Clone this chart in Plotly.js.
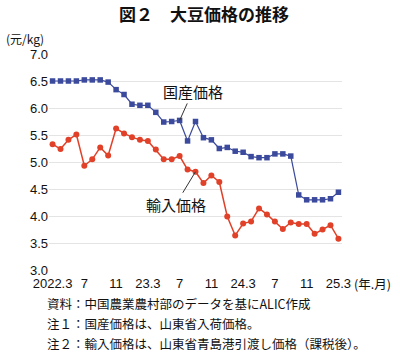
<!DOCTYPE html>
<html><head><meta charset="utf-8">
<script src="https://cdn.plot.ly/plotly-3.0.1.min.js"></script>
<style>html,body{margin:0;padding:0;background:#fff}#chart{width:400px;height:353px}</style>
</head><body><div id="chart"></div>
<script>
const months = ['2022.3','4','5','6','7','8','9','10','11','12','23.1','2','23.3','4','5','6','7','8','9','10','11','12','24.1','2','24.3','4','5','6','7','8','9','10','11','12','25.1','2','25.3'];
const tickLabels = ['2022.3','7','11','23.3','7','11','24.3','7','11','25.3'];
const domestic = [6.50,6.50,6.50,6.50,6.52,6.52,6.52,6.48,6.34,6.25,6.07,6.05,6.05,5.92,5.74,5.75,5.77,5.39,5.75,5.45,5.41,5.25,5.27,5.20,5.18,5.10,5.08,5.08,5.15,5.15,5.11,4.39,4.30,4.30,4.30,4.32,4.44];
const imported = [5.33,5.24,5.41,5.51,4.93,5.05,5.27,5.12,5.62,5.53,5.46,5.41,5.39,5.23,5.05,5.05,5.11,4.86,4.82,4.61,4.75,4.63,3.99,3.64,3.86,3.90,4.14,4.03,3.90,3.76,3.88,3.85,3.85,3.67,3.75,3.83,3.58];
const idx = months.map((m,i)=>i);
const tickIdx = idx.filter(i=>i%4===0);
const jp = '"Noto Sans CJK JP", sans-serif';
const num = '"Liberation Sans", Arial, "Noto Sans CJK JP", sans-serif';

const traces = [
 {x: idx, y: domestic, type:'scatter', mode:'lines+markers', name:'国産価格',
  line:{color:'#3b4a9c', width:1.2}, marker:{symbol:'square', size:5.5, color:'#3b4a9c'}},
 {x: idx, y: imported, type:'scatter', mode:'lines+markers', name:'輸入価格',
  line:{color:'#e04128', width:1.5}, marker:{symbol:'circle', size:6, color:'#e04128'}}
];
const layout = {
 width:400, height:353, margin:{l:49, r:58, t:54, b:83},
 paper_bgcolor:'#fff', plot_bgcolor:'#fff', showlegend:false,
 title:{text:'<b>図２　大豆価格の推移</b>', font:{family:jp, size:17, color:'#111'}, x:0.51, xanchor:'center', y:0.958, yanchor:'middle'},
 xaxis:{range:[-0.45,36.45], tickvals:tickIdx, ticktext:tickLabels, showgrid:false, zeroline:false, showline:false, ticks:'', ticklabelstandoff:4,
  tickfont:{family:num, size:13, color:'#111'}},
 yaxis:{range:[3,7], dtick:0.5, tickformat:'.1f', showgrid:true, gridcolor:'#e4e4e4', gridwidth:1, zeroline:false, showline:false, ticks:'',
  tickfont:{family:num, size:13, color:'#111'}},
 annotations:[
  {x:16, y:domestic[16], xref:'x', yref:'y', text:'国産価格', showarrow:true, arrowhead:0, arrowwidth:1, arrowcolor:'#333', ax:13, ay:-29, font:{family:jp, size:15, color:'#111'}},
  {x:18, y:imported[18], xref:'x', yref:'y', text:'輸入価格', showarrow:true, arrowhead:0, arrowwidth:1, arrowcolor:'#333', ax:-20, ay:33, font:{family:jp, size:15, color:'#111'}},
  {xref:'paper', yref:'paper', x:-0.155, y:1.0, yshift:16, xanchor:'left', yanchor:'middle', text:'(元/kg)', showarrow:false, font:{family:jp, size:12, color:'#111'}},
  {xref:'paper', yref:'paper', x:1.0, y:0, yshift:-13, xshift:10, xanchor:'left', yanchor:'middle', text:'(年.月)', showarrow:false, font:{family:jp, size:12.5, color:'#111'}},
  {xref:'paper', yref:'paper', x:-0.0136, y:0, yshift:-33, xanchor:'left', yanchor:'middle', align:'left', text:'資料：中国農業農村部のデータを基にALIC作成', showarrow:false, font:{family:jp, size:12.5, color:'#111'}},
  {xref:'paper', yref:'paper', x:-0.0136, y:0, yshift:-53, xanchor:'left', yanchor:'middle', align:'left', text:'注１：国産価格は、山東省入荷価格。', showarrow:false, font:{family:jp, size:12.5, color:'#111'}},
  {xref:'paper', yref:'paper', x:-0.0136, y:0, yshift:-73, xanchor:'left', yanchor:'middle', align:'left', text:'注２：輸入価格は、山東省青島港引渡し価格（課税後）。', showarrow:false, font:{family:jp, size:12.5, color:'#111'}}
 ]
};
Plotly.newPlot('chart', traces, layout, {displayModeBar:false, staticPlot:true});
</script></body></html>
